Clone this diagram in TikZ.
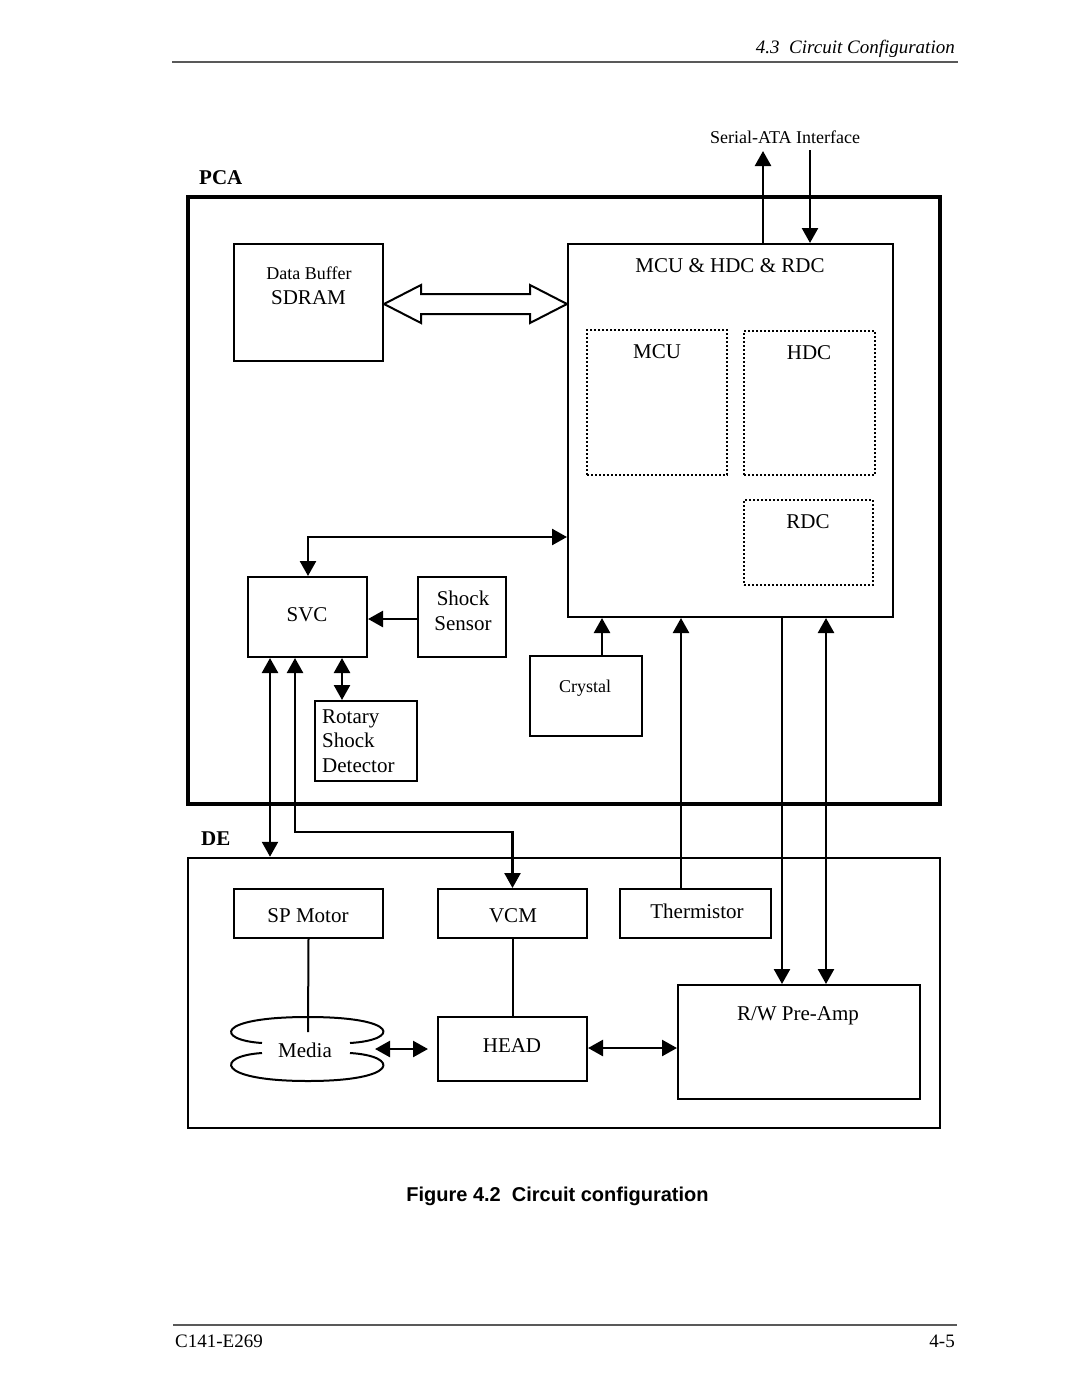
\documentclass[tikz,border=0pt]{standalone}
\usepackage{fontspec}
\setmainfont{Liberation Serif}
\newfontfamily\capfont{Liberation Sans}
\usetikzlibrary{arrows.meta,calc}
\newcommand\fsz[1]{\fontsize{#1}{#1}\selectfont}
\begin{document}
\begin{tikzpicture}[x=1pt,y=-1pt,
  box/.style={draw,line width=2pt,inner sep=0pt},
  dbox/.style={draw,line width=2pt,dash pattern=on 2pt off 2pt,inner sep=0pt},
  lbl/.style={anchor=base,inner sep=0pt,font=\fsz{21}},
  slbl/.style={anchor=base,inner sep=0pt,font=\fsz{18}},
  conn/.style={line width=2.5pt},
  arr/.style={conn,-{Triangle[length=15pt,width=16pt]}},
  arrb/.style={conn,{Triangle[length=15pt,width=16pt]}-{Triangle[length=15pt,width=16pt]}},
  rulestyle/.style={line width=2.5pt,black!65}
]
\fill[white] (0,0) rectangle (1080,1397);
\useasboundingbox (0,0) rectangle (1080,1397);

% header / footer
\coordinate (hrL) at (172,62); \coordinate (hrR) at (958,62);
\draw[rulestyle] (hrL) -- (hrR);
\node[anchor=base east,inner sep=0pt,font=\fsz{19}\itshape] (hdr) at (955,53) {4.3~~Circuit Configuration};
\coordinate (frL) at (173,1325); \coordinate (frR) at (957,1325);
\draw[rulestyle] (frL) -- (frR);
\node[anchor=base west,inner sep=0pt,font=\fsz{19}] (doc) at (175,1347) {C141-E269};
\node[anchor=base east,inner sep=0pt,font=\fsz{19}] (pg) at (955,1347) {4-5};
\node[anchor=base,inner sep=0pt,font=\capfont\bfseries\fsz{20}] (cap) at (557.5,1201) {Figure 4.2~~Circuit configuration};

% outer boxes
\node[draw,line width=3.5pt,inner sep=0pt,minimum width=752pt,minimum height=607pt] (pca) at (564,500.5) {};
\node[draw,line width=2.5pt,inner sep=0pt,minimum width=752pt,minimum height=270pt] (de) at (564,993) {};
\node[lbl,anchor=base west,font=\fsz{21}\bfseries] (pcal) at (199,184) {PCA};
\node[lbl,anchor=base west,font=\fsz{21}\bfseries] (del) at (201,845) {DE};

% PCA contents
\node[box,minimum width=149pt,minimum height=117pt] (sdram) at (308.5,302.5) {};
\node[slbl] (sdt1) at (309,279) {Data Buffer};
\node[lbl] (sdt2) at (308.5,304) {SDRAM};

\node[box,minimum width=325pt,minimum height=373pt] (mcu) at (730.5,430.5) {};
\node[lbl] (mcut) at (730,272) {MCU \& HDC \& RDC};
\node[dbox,minimum width=140pt,minimum height=145pt] (mcud) at (657,402.5) {};
\node[lbl] (mcudt) at (657,358) {MCU};
\node[dbox,minimum width=131pt,minimum height=144pt] (hdcd) at (809.5,403) {};
\node[lbl] (hdcdt) at (809,359) {HDC};
\node[dbox,minimum width=129pt,minimum height=85pt] (rdcd) at (808.5,542.5) {};
\node[lbl] (rdcdt) at (808,528) {RDC};

\node[box,minimum width=119pt,minimum height=80pt] (svc) at (307.5,617) {};
\node[lbl] (svct) at (307,621) {SVC};
\node[box,minimum width=88pt,minimum height=80pt] (shock) at (462,617) {};
\node[lbl] (sht1) at (463,605) {Shock};
\node[lbl] (sht2) at (463,630) {Sensor};
\node[box,minimum width=102pt,minimum height=80pt] (rotary) at (366,741) {};
\node[lbl,anchor=base west] (rt1) at (322,723) {Rotary};
\node[lbl,anchor=base west] (rt2) at (322,747) {Shock};
\node[lbl,anchor=base west] (rt3) at (322,772) {Detector};
\node[box,minimum width=112pt,minimum height=80pt] (crystal) at (586,696) {};
\node[slbl] (cryt) at (585,692) {Crystal};

% DE contents
\node[box,minimum width=149pt,minimum height=49pt] (spm) at (308.5,913.5) {};
\node[lbl] (spmt) at (308,922) {SP Motor};
\node[box,minimum width=149pt,minimum height=49pt] (vcm) at (512.5,913.5) {};
\node[lbl] (vcmt) at (513,922) {VCM};
\node[box,minimum width=151pt,minimum height=49pt] (therm) at (695.5,913.5) {};
\node[lbl] (thermt) at (697,918) {Thermistor};
\node[box,minimum width=149pt,minimum height=64pt] (head) at (512.5,1049) {};
\node[lbl] (headt) at (512,1052) {HEAD};
\node[box,minimum width=242pt,minimum height=114pt] (rw) at (799,1042) {};
\node[lbl] (rwt) at (798,1020) {R/W Pre-Amp};

% media
\draw[line width=2pt] (262,1043) .. controls (215,1040) and (215,1017) .. (308,1017)
      .. controls (400,1017) and (400,1040) .. (350,1043);
\draw[line width=2pt] (350,1053) .. controls (400,1056) and (400,1081) .. (308,1081)
      .. controls (215,1081) and (215,1056) .. (262,1053);
\node[lbl] (media) at (305,1057) {Media};
\coordinate (mediatop) at (308,1032);
\coordinate (mediaR) at (375,1049);
\coordinate (headL) at (428,1049);

% helper coordinates
\coordinate (x763) at (763,0); \coordinate (x810) at (810,0);
\coordinate (sataT) at (763,151); \coordinate (sataB) at (810,150);
\coordinate (x270) at (270,0); \coordinate (x295) at (295,0);
\coordinate (x308) at (308,0); \coordinate (x342) at (342,0);
\coordinate (x602) at (602,0); \coordinate (x681) at (681,0);
\coordinate (x782) at (782,0); \coordinate (x826) at (826,0);
\coordinate (y304) at (0,304); \coordinate (y537) at (0,537);
\coordinate (y619) at (0,619); \coordinate (y832) at (0,832);
\coordinate (y1048) at (0,1048);

\node[slbl] (sata) at (785,143) {Serial-ATA Interface};

% connectors
\draw[arr] (mcu.north -| x763) -- (sataT);
\draw[arr] (sataB) -- (mcu.north -| x810);

\coordinate (bl) at (sdram.east |- y304);
\coordinate (br) at (mcu.west |- y304);
\draw[line width=2pt,fill=white,line join=miter] (bl) -- ++(37,-19) -- ++(0,9) -- ($(br)+(-37,-10)$) -- ++(0,-9) -- (br)
  -- ++(-37,19) -- ++(0,-9) -- ($(bl)+(37,10)$) -- ++(0,9) -- cycle;

\draw[arrb] (mcu.west |- y537) -| (svc.north -| x308);
\draw[arr] (shock.west |- y619) -- (svc.east |- y619);
\draw[arrb] (svc.south -| x342) -- (rotary.north -| x342);
\draw[arrb] (svc.south -| x270) -- (de.north -| x270);
\draw[arrb] (svc.south -| x295) |- (vcm.north |- y832) -- (vcm.north);
\draw[arr] (crystal.north -| x602) -- (mcu.south -| x602);
\draw[arr] (therm.north -| x681) -- (mcu.south -| x681);
\draw[arr] (mcu.south -| x782) -- (rw.north -| x782);
\draw[arrb] (mcu.south -| x826) -- (rw.north -| x826);

\draw[line width=2pt] (spm.south) -- (mediatop);
\draw[line width=2pt] (vcm.south) -- (head.north);
\draw[arrb] (mediaR) -- (headL);
\draw[arrb] (head.east |- y1048) -- (rw.west |- y1048);
\end{tikzpicture}
\end{document}
